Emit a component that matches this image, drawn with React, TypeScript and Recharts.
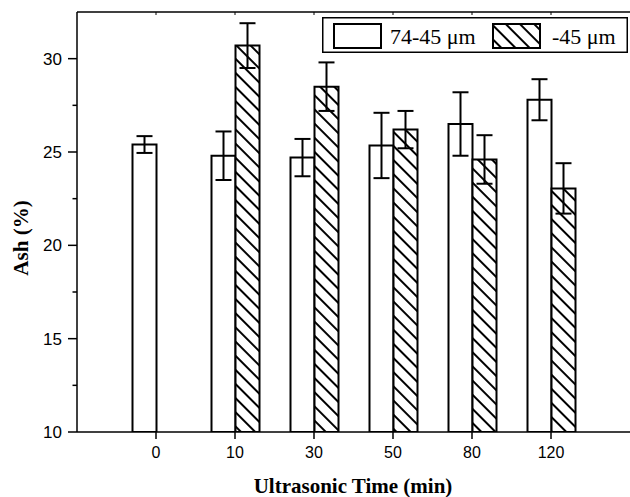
import React from 'react';
import { BarChart, Bar, XAxis, YAxis, ErrorBar, Legend } from 'recharts';

const categories = ['0', '10', '30', '50', '80', '120'];
const coarse = [25.4, 24.8, 24.7, 25.35, 26.5, 27.8];
const coarseErr = [0.45, 1.3, 1.0, 1.75, 1.7, 1.1];
const fine = [null, 30.7, 28.5, 26.2, 24.6, 23.05];
const fineErr = [null, 1.2, 1.3, 1.0, 1.3, 1.35];
const yTicks = [10, 12.5, 15, 17.5, 20, 22.5, 25, 27.5, 30];

const data = categories.map((time, i) => ({
  time,
  coarse: coarse[i],
  coarseErr: coarseErr[i],
  fine: fine[i],
  fineErr: fineErr[i],
}));

const SANS = 'Liberation Sans, Arial, sans-serif';
const SERIF = 'Liberation Serif, Times New Roman, serif';

const YTick = ({ x, y, payload }: any) => {
  const major = payload.value % 5 === 0;
  return (
    <g>
      <line x1={x - (major ? 9 : 4.5)} x2={x} y1={y} y2={y} stroke="#000" strokeWidth={1.5} />
      {major && (
        <text x={x - 15} y={y + 6} textAnchor="end" fontSize={17} fontFamily={SANS} fill="#000">
          {payload.value}
        </text>
      )}
    </g>
  );
};

const XTick = ({ x, y, payload }: any) => (
  <g>
    <line x1={x} x2={x} y1={y} y2={y + 7} stroke="#000" strokeWidth={1.5} />
    <text x={x} y={y + 26} textAnchor="middle" fontSize={16} fontFamily={SANS} fill="#000">
      {payload.value}
    </text>
  </g>
);

const TopTick = ({ x, y }: any) => (
  <line x1={x} x2={x} y1={y} y2={y + 3} stroke="#000" strokeWidth={1} />
);

const LegendBox = () => (
  <svg width={306} height={36} style={{ display: 'block' }}>
    <defs>
      <pattern id="hatchLegend" width="10" height="10" patternUnits="userSpaceOnUse" patternTransform="rotate(-45)">
        <rect width="10" height="10" fill="#fff" />
        <line x1="5" y1="0" x2="5" y2="10" stroke="#000" strokeWidth="2" />
      </pattern>
    </defs>
    <rect x={0.75} y={0.75} width={304.5} height={34.5} fill="#fff" stroke="#000" strokeWidth={1.5} />
    <rect x={12} y={7} width={47} height={24} fill="#fff" stroke="#000" strokeWidth={2} />
    <text x={68} y={27} fontSize={22} fontFamily={SERIF} fill="#000">74-45 μm</text>
    <rect x={171} y={7} width={47} height={24} fill="url(#hatchLegend)" stroke="#000" strokeWidth={2} />
    <text x={230} y={27} fontSize={22} fontFamily={SERIF} fill="#000">-45 μm</text>
  </svg>
);

export default function App() {
  return (
    <div style={{ position: 'absolute', left: 0, top: 0, background: '#fff' }}>
      <BarChart
        width={630}
        height={497}
        data={data}
        margin={{ top: 0, right: 0, bottom: 0, left: 0 }}
        barSize={24}
        barGap={0}
      >
        <defs>
          <pattern id="hatch" width="10" height="10" patternUnits="userSpaceOnUse" patternTransform="rotate(-45)">
            <rect width="10" height="10" fill="#fff" />
            <line x1="5" y1="0" x2="5" y2="10" stroke="#000" strokeWidth="2" />
          </pattern>
        </defs>
        <XAxis
          dataKey="time"
          xAxisId="top"
          orientation="top"
          height={12}
          padding={{ left: 39.5, right: 39.5 }}
          axisLine={{ stroke: '#000', strokeWidth: 1.5 }}
          tickLine={false}
          tickSize={0}
          tickMargin={0}
          tick={<TopTick />}
        />
        <XAxis
          dataKey="time"
          height={65}
          padding={{ left: 39.5, right: 39.5 }}
          axisLine={{ stroke: '#000', strokeWidth: 1.5 }}
          tickLine={false}
          tickSize={0}
          tickMargin={0}
          tick={<XTick />}
          label={{
            content: () => (
              <text x={353} y={493} textAnchor="middle" fontSize={21} fontWeight="bold" fontFamily={SERIF} fill="#000">
                Ultrasonic Time (min)
              </text>
            ),
          }}
        />
        <YAxis
          width={77}
          domain={[10, 32.5]}
          ticks={yTicks}
          interval={0}
          allowDataOverflow
          axisLine={{ stroke: '#000', strokeWidth: 1.5 }}
          tickLine={false}
          tickSize={0}
          tickMargin={0}
          tick={<YTick />}
          label={{
            content: () => (
              <text
                x={28}
                y={238}
                transform="rotate(-90, 28, 238)"
                textAnchor="middle"
                fontSize={21}
                fontWeight="bold"
                fontFamily={SERIF}
                fill="#000"
              >
                Ash (%)
              </text>
            ),
          }}
        />
        <Legend
          align="center"
          verticalAlign="middle"
          wrapperStyle={{ position: 'absolute', left: 322, top: 17, width: 306, height: 36 }}
          content={() => <LegendBox />}
        />
        <Bar dataKey="coarse" name="74-45 μm" fill="#fff" stroke="#000" strokeWidth={2} isAnimationActive={false}>
          <ErrorBar dataKey="coarseErr" width={8} stroke="#000" strokeWidth={2} />
        </Bar>
        <Bar dataKey="fine" name="-45 μm" fill="url(#hatch)" stroke="#000" strokeWidth={2} isAnimationActive={false}>
          <ErrorBar dataKey="fineErr" width={8} stroke="#000" strokeWidth={2} />
        </Bar>
      </BarChart>
    </div>
  );
}
